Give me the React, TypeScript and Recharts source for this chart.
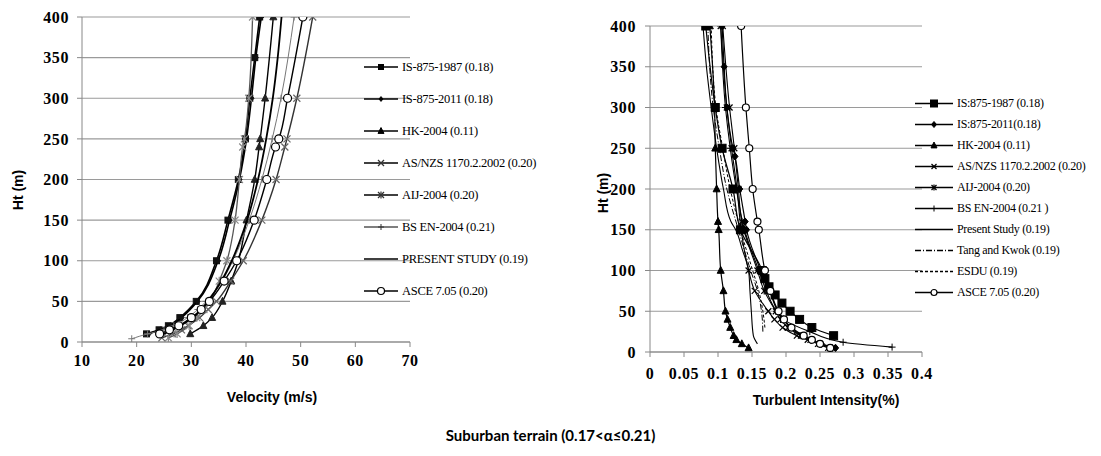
import React from 'react';
import { ScatterChart, Scatter, XAxis, YAxis, CartesianGrid, Legend, Label } from 'recharts';

// ---------- Left chart: velocity profiles ----------
const velTicks = [10, 20, 30, 40, 50, 60, 70];
const htTicks = [0, 50, 100, 150, 200, 250, 300, 350, 400];

const vIs1987H = [10, 15, 20, 30, 50, 100, 150, 200, 250, 300, 350, 400];
const vIs1987V = [21.8, 24.1, 25.8, 27.9, 30.9, 34.6, 36.7, 38.6, 39.9, 40.7, 41.6, 42.5];
const vIs2011H = [10, 15, 20, 30, 50, 100, 150, 200, 250, 300, 350, 400];
const vIs2011V = [22.2, 24.4, 26.2, 28.2, 31.1, 34.9, 37.0, 38.8, 40.1, 41.0, 41.8, 42.8];
const vHkH = [10, 20, 30, 50, 75, 100, 150, 200, 240, 250, 300, 400];
const vHkV = [29.8, 32.2, 33.8, 35.7, 37.3, 38.6, 40.1, 41.6, 42.4, 42.6, 43.5, 45.0];
const vAsH = [5, 10, 15, 20, 30, 40, 50, 75, 100, 150, 200, 240, 250, 300, 400];
const vAsV = [24.6, 26.6, 28.2, 29.4, 31.5, 33.1, 34.6, 37.2, 39.5, 42.9, 45.5, 47.1, 47.5, 49.3, 52.2];
const vAijH = [5, 10, 20, 30, 40, 50, 75, 100, 150, 200, 240, 250, 300, 400];
const vAijV = [25.8, 27.4, 29.6, 31.0, 32.3, 33.4, 35.1, 36.5, 38.0, 38.8, 39.4, 39.7, 40.5, 41.2];
const vBsH = [4, 10, 15, 20, 30, 40, 50, 75, 100, 150, 200, 250, 300, 400];
const vBsV = [19.1, 22.0, 25.0, 26.8, 29.3, 31.2, 32.7, 35.6, 37.6, 40.6, 42.9, 44.8, 46.4, 48.8];
const vPresH = [10, 20, 30, 50, 75, 100, 150, 200, 250, 300, 350, 400];
const vPresV = [25.0, 28.0, 30.3, 33.0, 35.5, 37.4, 40.2, 42.2, 43.7, 44.9, 45.8, 46.5];
const vAsceH = [10, 15, 20, 30, 40, 50, 75, 100, 150, 200, 240, 250, 300, 400];
const vAsceV = [24.2, 26.0, 27.7, 30.0, 31.8, 33.3, 36.0, 38.3, 41.5, 43.8, 45.4, 46.0, 47.6, 50.4];

// ---------- Right chart: turbulence intensity ----------
const tiTicks = [0, 0.05, 0.1, 0.15, 0.2, 0.25, 0.3, 0.35, 0.4];

const tIs1987H = [20, 30, 40, 50, 60, 70, 80, 90, 100, 150, 200, 250, 300, 400];
const tIs1987I = [0.270, 0.238, 0.220, 0.206, 0.194, 0.184, 0.175, 0.169, 0.165, 0.133, 0.122, 0.106, 0.096, 0.082];
const tIs2011H = [5, 10, 15, 20, 30, 40, 50, 75, 100, 150, 160, 200, 240, 250, 300, 350, 400];
const tIs2011I = [0.273, 0.252, 0.237, 0.224, 0.206, 0.196, 0.188, 0.176, 0.163, 0.142, 0.140, 0.132, 0.125, 0.122, 0.113, 0.109, 0.106];
const tHkH = [5, 10, 15, 20, 30, 40, 50, 75, 100, 150, 160, 200, 250, 300, 400];
const tHkI = [0.145, 0.135, 0.127, 0.123, 0.118, 0.114, 0.111, 0.108, 0.104, 0.101, 0.100, 0.098, 0.096, 0.095, 0.088];
const tAsH = [5, 10, 15, 20, 30, 40, 50, 75, 100, 150, 200, 250, 300, 400];
const tAsI = [0.262, 0.247, 0.232, 0.216, 0.195, 0.183, 0.174, 0.154, 0.145, 0.134, 0.128, 0.120, 0.113, 0.104];
const tAijH = [5, 10, 15, 20, 30, 40, 50, 75, 100, 150, 160, 200, 250, 300, 400];
const tAijI = [0.268, 0.250, 0.236, 0.222, 0.203, 0.192, 0.185, 0.168, 0.158, 0.138, 0.135, 0.130, 0.124, 0.117, 0.107];
const tBsH = [6, 12, 25, 40, 50, 75, 100, 150, 200, 250, 300, 400];
const tBsI = [0.356, 0.284, 0.235, 0.196, 0.186, 0.171, 0.160, 0.139, 0.127, 0.118, 0.111, 0.104];
const tPresH = [10, 20, 50, 75, 100, 125, 150, 160, 200, 250, 300, 350, 400];
const tPresI = [0.158, 0.152, 0.149, 0.147, 0.145, 0.136, 0.126, 0.119, 0.108, 0.098, 0.090, 0.083, 0.078];
const tTangH = [25, 50, 75, 100, 150, 200, 250, 300, 400];
const tTangI = [0.166, 0.164, 0.158, 0.148, 0.130, 0.113, 0.102, 0.093, 0.085];
const tEsduH = [30, 50, 75, 100, 150, 200, 250, 300, 400];
const tEsduI = [0.169, 0.166, 0.160, 0.151, 0.133, 0.118, 0.107, 0.097, 0.090];
const tAsceH = [5, 10, 15, 20, 30, 40, 50, 75, 100, 150, 160, 200, 250, 300, 400];
const tAsceI = [0.265, 0.250, 0.238, 0.226, 0.208, 0.197, 0.189, 0.177, 0.169, 0.160, 0.158, 0.151, 0.146, 0.141, 0.134];

const title = 'Suburban terrain (0.17<α≤0.21)';

type Kind = 'square' | 'diamond' | 'triangle' | 'x' | 'star' | 'plus' | 'circle' | 'none';

const zip = (xs: number[], hs: number[]) => hs.map((h, i) => ({ x: xs[i], y: h }));

function drawMarker(kind: Kind, cx: number, cy: number, s: number, color: string, key?: string) {
  const h = s / 2;
  switch (kind) {
    case 'square':
      return <rect key={key} x={cx - h} y={cy - h} width={s} height={s} fill={color} stroke={color} />;
    case 'diamond':
      return <polygon key={key} points={`${cx},${cy - h * 1.2} ${cx + h},${cy} ${cx},${cy + h * 1.2} ${cx - h},${cy}`} fill={color} stroke={color} />;
    case 'triangle':
      return <polygon key={key} points={`${cx},${cy - h * 1.15} ${cx + h},${cy + h * 0.8} ${cx - h},${cy + h * 0.8}`} fill={color} stroke={color} />;
    case 'x':
      return (
        <g key={key} stroke={color} strokeWidth={1.2}>
          <line x1={cx - h} y1={cy - h} x2={cx + h} y2={cy + h} />
          <line x1={cx - h} y1={cy + h} x2={cx + h} y2={cy - h} />
        </g>
      );
    case 'star':
      return (
        <g key={key} stroke={color} strokeWidth={1.2}>
          <line x1={cx - h} y1={cy - h} x2={cx + h} y2={cy + h} />
          <line x1={cx - h} y1={cy + h} x2={cx + h} y2={cy - h} />
          <line x1={cx} y1={cy - h * 1.2} x2={cx} y2={cy + h * 1.2} />
        </g>
      );
    case 'plus':
      return (
        <g key={key} stroke={color} strokeWidth={1}>
          <line x1={cx - h} y1={cy} x2={cx + h} y2={cy} />
          <line x1={cx} y1={cy - h} x2={cx} y2={cy + h} />
        </g>
      );
    case 'circle':
      return <circle key={key} cx={cx} cy={cy} r={h} fill="#fff" stroke={color} strokeWidth={1.2} />;
    default:
      return <g key={key} />;
  }
}

type SeriesCfg = {
  name: string;
  data: { x: number; y: number }[];
  kind: Kind;
  size: number;
  color: string;
  lineColor: string;
  width: number;
  dash?: string;
};

const leftSeries: SeriesCfg[] = [
  { name: 'IS-875-1987 (0.18)', data: zip(vIs1987V, vIs1987H), kind: 'square', size: 6, color: '#111', lineColor: '#000', width: 1.6 },
  { name: 'IS-875-2011 (0.18)', data: zip(vIs2011V, vIs2011H), kind: 'diamond', size: 5, color: '#111', lineColor: '#000', width: 1.6 },
  { name: 'HK-2004 (0.11)', data: zip(vHkV, vHkH), kind: 'triangle', size: 7, color: '#222', lineColor: '#000', width: 1.4 },
  { name: 'AS/NZS 1170.2.2002 (0.20)', data: zip(vAsV, vAsH), kind: 'x', size: 7, color: '#666', lineColor: '#333', width: 1.4 },
  { name: 'AIJ-2004 (0.20)', data: zip(vAijV, vAijH), kind: 'star', size: 7, color: '#888', lineColor: '#555', width: 1.3 },
  { name: 'BS EN-2004 (0.21)', data: zip(vBsV, vBsH), kind: 'plus', size: 7, color: '#777', lineColor: '#777', width: 1 },
  { name: 'PRESENT STUDY (0.19)', data: zip(vPresV, vPresH), kind: 'none', size: 0, color: '#000', lineColor: '#000', width: 1.8 },
  { name: 'ASCE 7.05 (0.20)', data: zip(vAsceV, vAsceH), kind: 'circle', size: 8, color: '#000', lineColor: '#000', width: 1.4 },
];

const rightSeries: SeriesCfg[] = [
  { name: 'IS:875-1987 (0.18)', data: zip(tIs1987I, tIs1987H), kind: 'square', size: 8, color: '#000', lineColor: '#000', width: 1.2 },
  { name: 'IS:875-2011(0.18)', data: zip(tIs2011I, tIs2011H), kind: 'diamond', size: 6, color: '#000', lineColor: '#000', width: 1.2 },
  { name: 'HK-2004 (0.11)', data: zip(tHkI, tHkH), kind: 'triangle', size: 7, color: '#000', lineColor: '#000', width: 1.2 },
  { name: 'AS/NZS 1170.2.2002 (0.20)', data: zip(tAsI, tAsH), kind: 'x', size: 6, color: '#000', lineColor: '#000', width: 1.1 },
  { name: 'AIJ-2004 (0.20)', data: zip(tAijI, tAijH), kind: 'star', size: 6, color: '#000', lineColor: '#000', width: 1.1 },
  { name: 'BS EN-2004 (0.21 )', data: zip(tBsI, tBsH), kind: 'plus', size: 7, color: '#000', lineColor: '#000', width: 1.1 },
  { name: 'Present Study (0.19)', data: zip(tPresI, tPresH), kind: 'none', size: 0, color: '#000', lineColor: '#000', width: 1.1 },
  { name: 'Tang and Kwok (0.19)', data: zip(tTangI, tTangH), kind: 'none', size: 0, color: '#000', lineColor: '#000', width: 1, dash: '6 2 1 2' },
  { name: 'ESDU (0.19)', data: zip(tEsduI, tEsduH), kind: 'none', size: 0, color: '#000', lineColor: '#000', width: 1, dash: '3 2' },
  { name: 'ASCE 7.05 (0.20)', data: zip(tAsceI, tAsceH), kind: 'circle', size: 7, color: '#000', lineColor: '#000', width: 1.2 },
];

const tickStyle = { fontFamily: '"Liberation Serif", "Times New Roman", serif', fontWeight: 700, fontSize: 16, fill: '#000', letterSpacing: 0.6 };
const titleFont = '"Liberation Sans", Arial, sans-serif';

function makeLegend(series: SeriesCfg[], rowH: number, lineW: number, fontSize: number) {
  return () => (
    <div style={{ fontFamily: '"Liberation Serif", "Times New Roman", serif', fontSize, color: '#000', letterSpacing: -0.3 }}>
      {series.map((s) => (
        <div key={s.name} style={{ height: rowH, display: 'flex', alignItems: 'center', whiteSpace: 'nowrap' }}>
          <svg width={lineW + 4} height={rowH} style={{ display: 'block' }}>
            <line x1={0} y1={rowH / 2} x2={lineW} y2={rowH / 2} stroke={s.lineColor === '#777' ? '#555' : '#000'} strokeWidth={1.3} strokeDasharray={s.dash} />
            {drawMarker(s.kind, lineW / 2, rowH / 2, Math.max(0, s.size - 1), s.color === '#888' || s.color === '#777' || s.color === '#666' ? '#333' : '#000')}
          </svg>
          <span>{s.name}</span>
        </div>
      ))}
    </div>
  );
}

function renderSeries(series: SeriesCfg[]) {
  return series.map((s) => (
    <Scatter
      key={s.name}
      name={s.name}
      data={s.data}
      isAnimationActive={false}
      line={{ stroke: s.lineColor, strokeWidth: s.width, strokeDasharray: s.dash }}
      lineType="joint"
      lineJointType="monotoneY"
      shape={(p: any) => drawMarker(s.kind, p.cx, p.cy, s.size, s.color)}
    />
  ));
}

export default function App() {
  return (
    <div style={{ position: 'absolute', left: 0, top: 0, width: 1101, height: 456, background: '#fff' }}>
      <div style={{ position: 'absolute', left: 0, top: 0 }}>
        <ScatterChart width={600} height={420} margin={{ top: 17, right: 190, bottom: 48, left: 32 }}>
          <CartesianGrid horizontal vertical={false} stroke="#9a9a9a" strokeWidth={1.2} />
          <XAxis
            type="number"
            dataKey="x"
            domain={[10, 70]}
            ticks={velTicks}
            height={30}
            tick={tickStyle}
            tickSize={5}
            tickMargin={8}
            stroke="#888"
            allowDataOverflow
          >
            <Label
              content={() => (
                <text x={272} y={397} textAnchor="middle" dominantBaseline="central" fontFamily={titleFont} fontWeight={700} fontSize={14} fill="#000">
                  Velocity (m/s)
                </text>
              )}
            />
          </XAxis>
          <YAxis
            type="number"
            dataKey="y"
            domain={[0, 400]}
            ticks={htTicks}
            width={50}
            tick={tickStyle}
            tickSize={5}
            tickMargin={8}
            stroke="#888"
            allowDataOverflow
          >
            <Label
              content={() => (
                <text x={18} y={190} transform="rotate(-90 18 190)" textAnchor="middle" dominantBaseline="central" fontFamily={titleFont} fontWeight={700} fontSize={14} fill="#000">
                  Ht (m)
                </text>
              )}
            />
          </YAxis>
          {renderSeries(leftSeries)}
          <Legend
            layout="vertical"
            align="center"
            verticalAlign="middle"
            content={makeLegend(leftSeries, 32, 34, 12.5)}
            wrapperStyle={{ position: 'absolute', left: 364, top: 51, width: 230 }}
          />
        </ScatterChart>
      </div>
      <div style={{ position: 'absolute', left: 580, top: 0 }}>
        <ScatterChart width={521} height={420} margin={{ top: 26, right: 179, bottom: 38, left: 20 }}>
          <CartesianGrid horizontal vertical={false} stroke="#9a9a9a" strokeWidth={1.2} />
          <XAxis
            type="number"
            dataKey="x"
            domain={[0, 0.4]}
            ticks={tiTicks}
            height={30}
            tick={tickStyle}
            tickSize={5}
            tickMargin={11}
            tickFormatter={(v: number) => String(+v.toFixed(2))}
            stroke="#888"
            allowDataOverflow
          >
            <Label
              content={() => (
                <text x={246} y={400} textAnchor="middle" dominantBaseline="central" fontFamily={titleFont} fontWeight={700} fontSize={14} fill="#000">
                  Turbulent Intensity(%)
                </text>
              )}
            />
          </XAxis>
          <YAxis
            type="number"
            dataKey="y"
            domain={[0, 400]}
            ticks={htTicks}
            width={50}
            tick={tickStyle}
            tickSize={5}
            tickMargin={9}
            stroke="#888"
            allowDataOverflow
          >
            <Label
              content={() => (
                <text x={23} y={193} transform="rotate(-90 23 193)" textAnchor="middle" dominantBaseline="central" fontFamily={titleFont} fontWeight={700} fontSize={14} fill="#000">
                  Ht (m)
                </text>
              )}
            />
          </YAxis>
          {renderSeries(rightSeries)}
          <Legend
            layout="vertical"
            align="center"
            verticalAlign="middle"
            content={makeLegend(rightSeries, 21, 38, 12)}
            wrapperStyle={{ position: 'absolute', left: 335, top: 93, width: 190 }}
          />
        </ScatterChart>
      </div>
      <div
        style={{
          position: 'absolute',
          left: 0,
          width: 1101,
          top: 426,
          textAlign: 'center',
          fontFamily: 'Lato, "Open Sans", sans-serif',
          fontWeight: 700,
          fontSize: 15,
          color: '#000',
        }}
      >
        {title}
      </div>
    </div>
  );
}
